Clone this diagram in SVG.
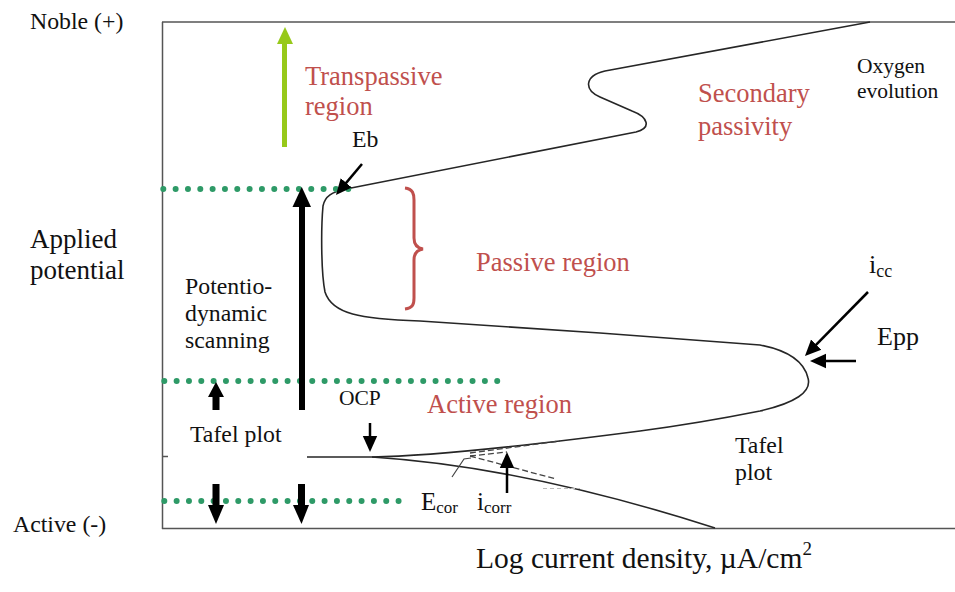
<svg xmlns="http://www.w3.org/2000/svg" width="955" height="592" viewBox="0 0 955 592">
  <style>
    text { font-family: "Liberation Serif", "Times New Roman", serif; fill: #111; }
    .red { fill: #c0504d; font-size: 26.5px; }
    .blk { font-size: 23.8px; }
    .frame { stroke: #555; stroke-width: 1.5; fill: none; }
    .curve { stroke: #262626; stroke-width: 1.6; fill: none; stroke-linejoin: round; }
    .dash { stroke: #444; stroke-width: 1.3; fill: none; stroke-dasharray: 6 3; }
    .dots { stroke: #2e9a67; stroke-width: 6; stroke-linecap: round; stroke-dasharray: 0 12.33; fill: none; }
    .thin { stroke: #000; stroke-width: 2.5; fill: none; marker-end: url(#ah); }
    .thick { fill: #000; }
  </style>
  <defs>
    <marker id="ah" markerUnits="userSpaceOnUse" markerWidth="16" markerHeight="16" viewBox="0 0 16 16" refX="8" refY="8" orient="auto">
      <path d="M0,0.8 L16,8 L0,15.2 z" fill="#000"/>
    </marker>
  </defs>

  <rect width="955" height="592" fill="#fff"/>

  <!-- plot frame: left axis, top and bottom borders -->
  <g id="frame">
    <path class="frame" d="M162.5,22 V529"/>
    <path class="frame" d="M162,22 H955"/>
    <path class="frame" d="M162,528.5 H955"/>
    <path class="frame" d="M162,456.5 H168"/>
  </g>

  <!-- polarization curve -->
  <g id="curve">
    <path class="curve" d="M307,457 L372,457 C430,456 540,444 640,431 C700,423 740,415 760,411 C795,403 812,392 808,378 C804,361 786,350 760,345 L600,333 L420,321 C360,319 332,314 325,292 C321,272 321,228 323,206 C325,196 332,192 346,189 L636,132 C652,128 648,117 632,111 L600,97 C584,90 584,76 605,71 L870,22"/>
    <path class="curve" d="M372,457 C450,462 560,478 715,528"/>
    <!-- Tafel extrapolations -->
    <path class="dash" d="M470,456 L507,452"/>
    <path class="dash" d="M470,456 L556,479"/>
    <path class="dash" d="M470,453 L560,441"/>
    <path d="M543,488.5 H580" stroke="#bbb" stroke-width="1" stroke-dasharray="4 3" fill="none"/>
    <path d="M452,477 L464,459 L471,458" stroke="#444" stroke-width="1.2" fill="none"/>
  </g>

  <!-- dotted potential levels -->
  <g id="levels">
    <path class="dots" d="M163.3,189 H349"/>
    <path class="dots" d="M164.3,381 H497.5"/>
    <path class="dots" d="M164.3,501 H399"/>
  </g>

  <!-- passive region brace -->
  <g id="brace">
    <path d="M405,188 C413,189 414,194 414,200 L414,238 C414,245 417,248 423,249 C417,250 414,253 414,260 L414,298 C414,304 413,308 405,309" stroke="#c0504d" stroke-width="3" fill="none"/>
  </g>

  <g id="connectors">
    <!-- transpassive direction -->
    <g id="arrow-transpassive">
      <rect x="282" y="42" width="5" height="105" fill="#97c91a"/>
      <polygon points="277,44 293,44 285,27" fill="#97c91a"/>
    </g>
    <!-- potentiodynamic scan -->
    <g id="arrow-scan">
      <rect x="299" y="205" width="6" height="205" class="thick"/>
      <polygon points="292.5,207 311,207 301.8,187" class="thick"/>
    </g>
    <g id="arrow-tafel-up">
      <rect x="212.5" y="395" width="7" height="15" class="thick"/>
      <polygon points="208,397 224,397 216,382" class="thick"/>
    </g>
    <g id="arrow-tafel-down">
      <rect x="212.5" y="484" width="7" height="23" class="thick"/>
      <polygon points="208,505 224,505 216,524" class="thick"/>
    </g>
    <g id="arrow-scan-down">
      <rect x="298" y="484" width="7" height="23" class="thick"/>
      <polygon points="293,505 309,505 301.5,524" class="thick"/>
    </g>
    <path id="arrow-eb" class="thin" d="M362,164 L341.1,188.9"/>
    <path id="arrow-icc" class="thin" d="M868,292 L810.6,350.3"/>
    <path id="arrow-epp" class="thin" d="M856,361 L818,361"/>
    <path id="arrow-ocp" class="thin" d="M370,423 L370,444"/>
    <path id="arrow-icorr" class="thin" d="M507,493 L507,460"/>
  </g>

  <!-- labels -->
  <g id="label-noble"><text class="blk" x="30" y="29">Noble (+)</text></g>
  <g id="label-active"><text class="blk" x="13" y="532">Active (-)</text></g>
  <g id="label-potential">
    <text x="30" y="248" font-size="27">Applied</text>
    <text x="30" y="279" font-size="27">potential</text>
  </g>
  <g id="label-transpassive">
    <text class="red" x="305" y="85">Transpassive</text>
    <text class="red" x="305" y="115">region</text>
  </g>
  <g id="label-eb"><text class="blk" x="352" y="147">Eb</text></g>
  <g id="label-secondary">
    <text class="red" x="698" y="102">Secondary</text>
    <text class="red" x="698" y="135">passivity</text>
  </g>
  <g id="label-oxygen">
    <text x="857" y="73" font-size="21.5">Oxygen</text>
    <text x="857" y="98" font-size="21.5">evolution</text>
  </g>
  <g id="label-passive"><text class="red" x="476" y="271">Passive region</text></g>
  <g id="label-scan">
    <text class="blk" x="185" y="294">Potentio-</text>
    <text class="blk" x="185" y="321">dynamic</text>
    <text class="blk" x="185" y="348">scanning</text>
  </g>
  <g id="label-icc"><text x="869" y="273" font-size="26">i<tspan font-size="18" dy="4">cc</tspan></text></g>
  <g id="label-epp"><text x="877" y="345" font-size="26">Epp</text></g>
  <g id="label-ocp"><text x="339" y="405" font-size="21.5">OCP</text></g>
  <g id="label-active-region"><text class="red" x="427" y="413">Active region</text></g>
  <g id="label-tafel-left"><text class="blk" x="190" y="442">Tafel plot</text></g>
  <g id="label-tafel-right">
    <text class="blk" x="735" y="453">Tafel</text>
    <text class="blk" x="735" y="480">plot</text>
  </g>
  <g id="label-ecorr"><text x="421" y="510" font-size="25">E<tspan font-size="17" dy="3">cor</tspan></text></g>
  <g id="label-icorr"><text x="477" y="510" font-size="25">i<tspan font-size="17" dy="3">corr</tspan></text></g>
  <g id="label-axis"><text x="476" y="568" font-size="29.5">Log current density, µA/cm<tspan font-size="19" dy="-13">2</tspan></text></g>
</svg>
